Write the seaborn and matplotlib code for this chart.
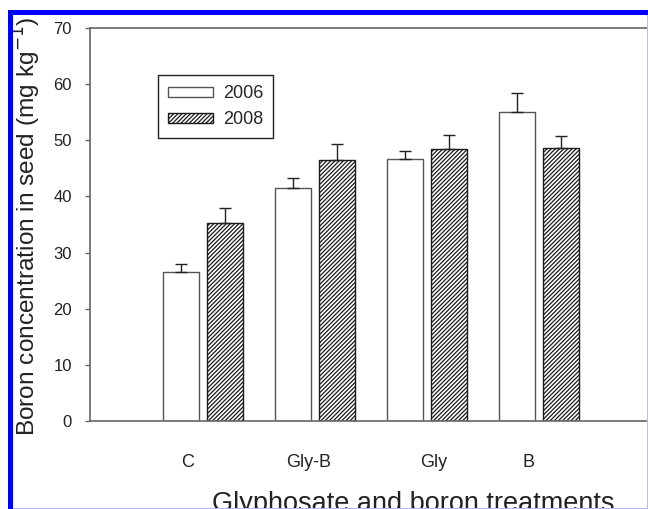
import numpy as np
import pandas as pd
import matplotlib
matplotlib.use("Agg")
import matplotlib.pyplot as plt
from matplotlib.patches import Patch, Rectangle
import seaborn as sns

# data
treatments = ["C", "Gly-B", "Gly", "B"]
years = ["2006", "2008"]
boron_2006 = [26.5, 41.5, 46.7, 55.0]
boron_2008 = [35.3, 46.5, 48.5, 48.7]
err_2006 = [1.4, 1.7, 1.4, 3.5]
err_2008 = [2.7, 2.9, 2.5, 2.0]
yticks = [0, 10, 20, 30, 40, 50, 60, 70]
# tick labels sit a bit off the group centres in the original
label_shift = [-0.134, -0.054, 0.062, -0.098]

df = pd.DataFrame({
    "treatment": treatments * 2,
    "year": [years[0]] * 4 + [years[1]] * 4,
    "boron": boron_2006 + boron_2008,
})

sns.set_style("white")
plt.rcParams["font.family"] = ["Liberation Sans", "DejaVu Sans"]
plt.rcParams["hatch.linewidth"] = 0.9

W, H = 648, 509
fig = plt.figure(figsize=(W / 100, H / 100), dpi=100)
ax = fig.add_axes([90 / W, 88 / H, 558 / W, 393 / H])

sns.barplot(data=df, x="treatment", y="boron", hue="year", order=treatments,
            hue_order=years, palette=["white", "white"], width=0.786, gap=0.18,
            edgecolor="#555555", linewidth=1.0, errorbar=None, legend=False, ax=ax)

HATCH = "////////"

#hatch the 2008 bars and add one-sided error bars
for cont, hatch, edge, errs in zip(ax.containers, ["", HATCH], ["#555555", "#1a1a1a"],
                                   [err_2006, err_2008]):
    for bar, e in zip(cont, errs):
        bar.set_hatch(hatch)
        bar.set_edgecolor(edge)
        xc = bar.get_x() + bar.get_width() / 2
        ax.errorbar(xc, bar.get_height(), yerr=[[0], [e]], fmt="none",
                    ecolor="#222222", elinewidth=1.0, capsize=4.3, capthick=1.0)

ax.set_xlim(-1.009, 3.973)
ax.set_ylim(0, 70)
ax.set_yticks(yticks)
ax.set_xticks(np.arange(len(treatments)) + np.array(label_shift))
ax.set_xticklabels(treatments)

ax.tick_params(axis="y", left=True, length=3.6, width=1.0, color="#666666",
               pad=9.4, labelsize=12, labelcolor="#222222")
ax.tick_params(axis="x", bottom=False, length=0, pad=24, labelsize=13,
               labelcolor="#222222")

for side in ["left", "bottom", "top"]:
    ax.spines[side].set_color("#666666")
    ax.spines[side].set_linewidth(1.2)
ax.spines["right"].set_visible(False)

ax.set_xlabel("Glyphosate and boron treatments", fontsize=19.5, color="#222222")
ax.xaxis.set_label_coords(413 / W, (H - 491) / H, transform=fig.transFigure)
ax.set_ylabel("Boron concentration in seed (mg kg$^{-1}$)", fontsize=17.6, color="#222222")
ax.yaxis.set_label_coords(43 / W, (H - 226) / H, transform=fig.transFigure)

handles = [Patch(facecolor="white", edgecolor="#555555", label=years[0]),
           Patch(facecolor="white", edgecolor="#1a1a1a", hatch=HATCH, label=years[1])]
leg = ax.legend(handles=handles, loc="upper left", bbox_to_anchor=(0.122, 0.880),
                borderaxespad=0, fontsize=13, frameon=True, fancybox=False,
                framealpha=1, edgecolor="#222222", handlelength=2.5,
                handleheight=0.45, handletextpad=0.55, labelspacing=0.5,
                borderpad=0.55)
leg.get_frame().set_linewidth(1.0)

# blue frame of the scanned figure
fig.add_artist(Rectangle((8 / W, 0), 5 / W, (H - 10) / H, transform=fig.transFigure,
                         facecolor="#0000ff", edgecolor="none"))
fig.add_artist(Rectangle((8 / W, (H - 15) / H), (W - 8) / W, 5 / H,
                         transform=fig.transFigure, facecolor="#0000ff", edgecolor="none"))
fig.add_artist(Rectangle((647 / W, 0), 1 / W, (H - 15) / H, transform=fig.transFigure,
                         facecolor="#b8b8ff", edgecolor="none"))
fig.add_artist(Rectangle((13 / W, 0), (W - 13) / W, 1 / H, transform=fig.transFigure,
                         facecolor="#b8b8ff", edgecolor="none"))

fig.savefig("out.png", dpi=100)
